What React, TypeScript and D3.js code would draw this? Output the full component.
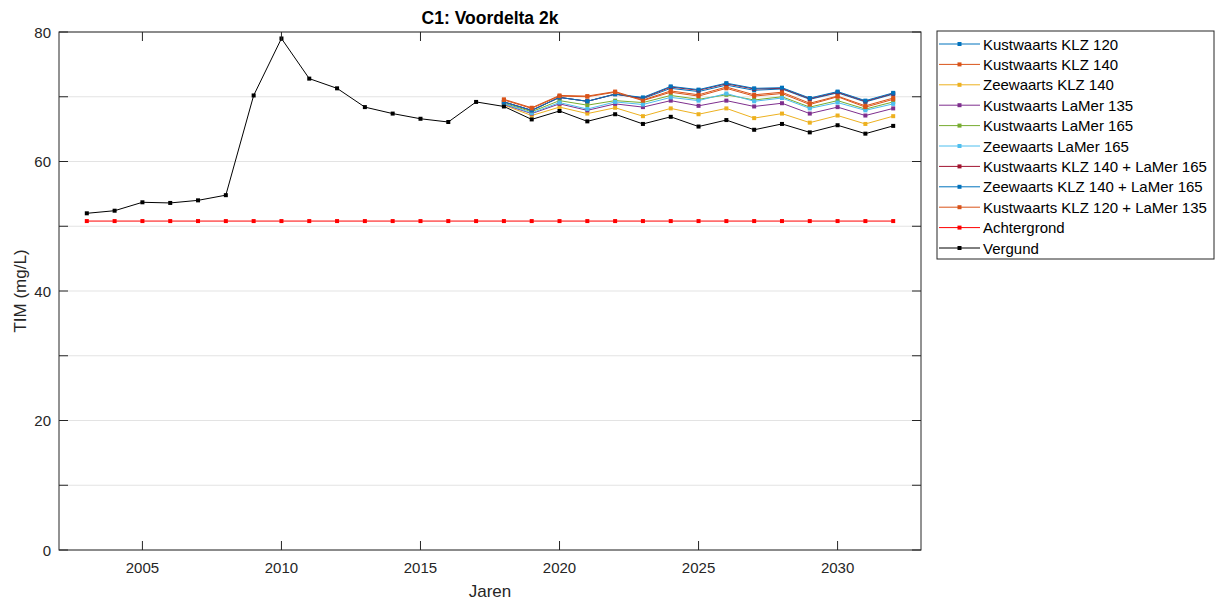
import React from "react";
import * as d3 from "d3";

const yearsHist = d3.range(2003, 2033);
const yearsScen = d3.range(2018, 2033);

const vergund = [52.0, 52.4, 53.7, 53.6, 54.0, 54.8, 70.2, 79.0, 72.8, 71.3, 68.4, 67.4, 66.6, 66.1, 69.2,
  68.5, 66.5, 67.8, 66.2, 67.3, 65.8, 66.9, 65.4, 66.4, 64.9, 65.8, 64.5, 65.6, 64.3, 65.5];
const achtergrond = yearsHist.map(() => 50.8);

const kustKLZ120 = [69.2, 67.9, 69.9, 69.3, 70.4, 69.7, 71.3, 70.8, 71.8, 71.0, 71.2, 69.6, 70.6, 69.2, 70.4];
const kustKLZ140 = [69.6, 68.3, 70.2, 70.1, 70.8, 69.5, 70.9, 70.3, 71.5, 70.3, 70.7, 69.0, 70.1, 68.6, 69.8];
const zeeKLZ140 = [68.7, 67.1, 68.4, 67.4, 68.3, 67.0, 68.2, 67.3, 68.2, 66.7, 67.4, 66.0, 67.1, 65.8, 67.0];
const kustLaMer135 = [68.8, 67.4, 68.9, 67.9, 68.9, 68.4, 69.4, 68.6, 69.4, 68.5, 69.0, 67.4, 68.4, 67.1, 68.2];
const kustLaMer165 = [69.0, 67.7, 69.4, 68.7, 69.4, 69.1, 70.2, 69.6, 70.3, 69.5, 70.0, 68.4, 69.4, 68.1, 69.2];
const zeeLaMer165 = [68.9, 67.5, 69.1, 68.1, 69.2, 68.8, 69.9, 69.4, 70.5, 69.3, 69.8, 68.2, 69.1, 67.9, 68.9];
const kustKLZ140LaMer165 = [69.2, 67.9, 69.9, 69.3, 70.4, 69.8, 71.5, 71.0, 72.0, 71.2, 71.3, 69.7, 70.7, 69.3, 70.5];
const zeeKLZ140LaMer165 = [69.2, 67.9, 69.9, 69.3, 70.4, 69.9, 71.6, 71.1, 72.1, 71.3, 71.4, 69.8, 70.8, 69.4, 70.6];
const kustKLZ120LaMer135 = [69.5, 68.2, 70.1, 70.0, 70.7, 69.4, 70.7, 70.1, 71.3, 70.1, 70.5, 68.8, 70.0, 68.4, 69.6];

const seriesNames = [
  "Kustwaarts KLZ 120", "Kustwaarts KLZ 140", "Zeewaarts KLZ 140", "Kustwaarts LaMer 135",
  "Kustwaarts LaMer 165", "Zeewaarts LaMer 165", "Kustwaarts KLZ 140 + LaMer 165",
  "Zeewaarts KLZ 140 + LaMer 165", "Kustwaarts KLZ 120 + LaMer 135", "Achtergrond", "Vergund",
];
const seriesColors = ["#0072BD", "#D95319", "#EDB120", "#7E2F8E", "#77AC30", "#4DBEEE", "#A2142F",
  "#0072BD", "#D95319", "#FF0000", "#000000"];
const seriesValues = [kustKLZ120, kustKLZ140, zeeKLZ140, kustLaMer135, kustLaMer165, zeeLaMer165,
  kustKLZ140LaMer165, zeeKLZ140LaMer165, kustKLZ120LaMer135, achtergrond, vergund];
const seriesYears = [yearsScen, yearsScen, yearsScen, yearsScen, yearsScen, yearsScen, yearsScen,
  yearsScen, yearsScen, yearsHist, yearsHist];

const xTicks = [2005, 2010, 2015, 2020, 2025, 2030];
const yTicks = [0, 10, 20, 30, 40, 50, 60, 70, 80];
const yTickLabels = [0, 20, 40, 60, 80];

export default function App() {
  const W = 1219, H = 604;
  const L = 59, R = 921, T = 32, B = 550;
  const x = d3.scaleLinear().domain([2002, 2033]).range([L, R]);
  const y = d3.scaleLinear().domain([0, 80]).range([B, T]);
  const line = d3.line<[number, number]>().x(d => x(d[0])).y(d => y(d[1]));
  const txt = "#262626";
  const font = "'Liberation Sans', Arial, sans-serif";

  const legX = 937, legY = 31, legW = 277, legH = 228;
  const rowY = (i: number) => 44 + i * 20.4;

  return (
    <svg width={W} height={H} style={{ position: "absolute", left: 0, top: 0 }} fontFamily={font}>
      <rect x={0} y={0} width={W} height={H} fill="#fff" />
      {yTicks.map(t => (
        <line key={"g" + t} x1={L} x2={R} y1={y(t)} y2={y(t)} stroke="#e3e3e3" strokeWidth={1} />
      ))}
      {seriesValues.map((vals, i) => {
        const pts = vals.map((v, j) => [seriesYears[i][j], v] as [number, number]);
        return (
          <g key={"s" + i}>
            <path d={line(pts) || ""} fill="none" stroke={seriesColors[i]} strokeWidth={1} />
            {pts.map((p, j) => (
              <rect key={j} x={x(p[0]) - 2} y={y(p[1]) - 2} width={4} height={4} fill={seriesColors[i]} />
            ))}
          </g>
        );
      })}
      <rect x={L} y={T} width={R - L} height={B - T} fill="none" stroke="#262626" strokeWidth={1} />
      {xTicks.map(t => (
        <g key={"x" + t}>
          <line x1={x(t)} x2={x(t)} y1={B} y2={B - 9} stroke={txt} />
          <line x1={x(t)} x2={x(t)} y1={T} y2={T + 9} stroke={txt} />
          <text x={x(t)} y={B + 23} textAnchor="middle" fontSize={15} fill={txt}>{t}</text>
        </g>
      ))}
      {yTicks.map(t => (
        <g key={"y" + t}>
          <line x1={L} x2={L + 9} y1={y(t)} y2={y(t)} stroke={txt} />
          <line x1={R} x2={R - 9} y1={y(t)} y2={y(t)} stroke={txt} />
        </g>
      ))}
      {yTickLabels.map(t => (
        <text key={"yl" + t} x={L - 8} y={y(t) + 5.5} textAnchor="end" fontSize={15} fill={txt}>{t}</text>
      ))}
      <text x={(L + R) / 2} y={24} textAnchor="middle" fontSize={17.5} fontWeight="bold" fill="#000">C1: Voordelta 2k</text>
      <text x={(L + R) / 2} y={597} textAnchor="middle" fontSize={17} fill={txt}>Jaren</text>
      <text transform={`translate(26,${(T + B) / 2}) rotate(-90)`} textAnchor="middle" fontSize={17} fill={txt}>TIM (mg/L)</text>
      <rect x={legX} y={legY} width={legW} height={legH} fill="#fff" stroke="#262626" strokeWidth={1} />
      {seriesNames.map((n, i) => (
        <g key={"l" + i}>
          <line x1={939} x2={980} y1={rowY(i)} y2={rowY(i)} stroke={seriesColors[i]} strokeWidth={1} />
          <rect x={957.5} y={rowY(i) - 2} width={4} height={4} fill={seriesColors[i]} />
          <text x={983} y={rowY(i) + 5.5} fontSize={15} fill="#000">{n}</text>
        </g>
      ))}
    </svg>
  );
}
